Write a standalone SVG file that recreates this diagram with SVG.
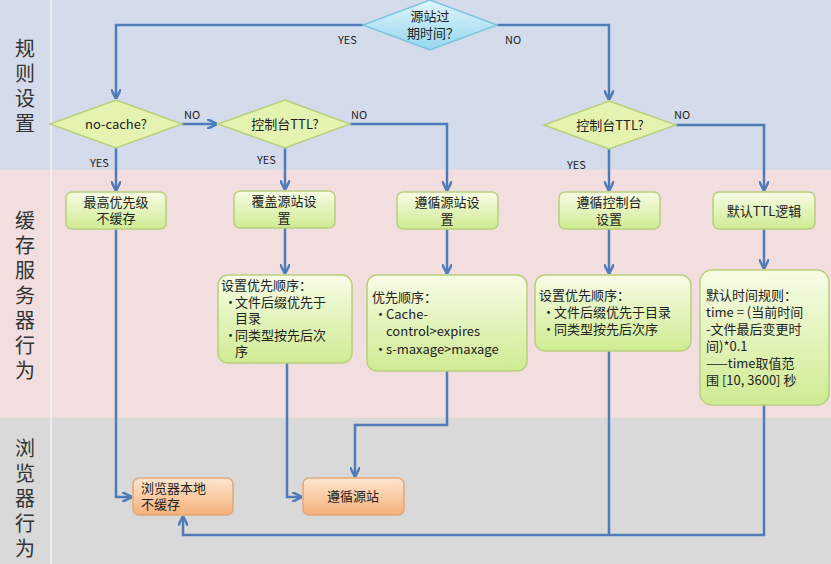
<svg xmlns="http://www.w3.org/2000/svg" width="831" height="564" viewBox="0 0 831 564">
<defs>
<linearGradient id="gg" x1="0" y1="0" x2="0" y2="1"><stop offset="0" stop-color="#f7fce6"/><stop offset="1" stop-color="#cfeb92"/></linearGradient>
<linearGradient id="og" x1="0" y1="0" x2="0" y2="1"><stop offset="0" stop-color="#fde6cf"/><stop offset="1" stop-color="#f6b07a"/></linearGradient>
<linearGradient id="bg" x1="0" y1="0" x2="0" y2="1"><stop offset="0" stop-color="#e2f6fc"/><stop offset="1" stop-color="#93d6ee"/></linearGradient>
<marker id="ar" viewBox="0 0 10 10" refX="9" refY="5" markerWidth="4" markerHeight="4" orient="auto"><path d="M0,0 L10,5 L0,10" fill="none" stroke="#4f7bb8" stroke-width="2.5"/></marker>
</defs>
<style>
.c{fill:none;stroke:#4f7bb8;stroke-width:2.5}
.g{fill:url(#gg);stroke:#b8d07e;stroke-width:1.5}
.o{fill:url(#og);stroke:#e2a878;stroke-width:1.5}
.d{fill:#e4f3b0;stroke:#b8d07e;stroke-width:1.5}
text{font-family:"Noto Sans CJK SC","Noto Sans",sans-serif;font-size:13px;fill:#222}
.m{text-anchor:middle}
.lb{font-size:11px}
.lane{font-size:20px;fill:#333;text-anchor:middle}
</style>
<rect x="0" y="0" width="831" height="170" fill="#d4dcec"/>
<rect x="0" y="170" width="831" height="248" fill="#f2dede"/>
<rect x="0" y="418" width="831" height="146" fill="#d9d9d9"/>
<line x1="51" y1="0" x2="51" y2="564" stroke="#f4f4f4" stroke-width="1.5"/>
<g id="lanes">
<text class="lane" x="25" y="56">规</text><text class="lane" x="25" y="81">则</text><text class="lane" x="25" y="106">设</text><text class="lane" x="25" y="131">置</text>
<text class="lane" x="25" y="228">缓</text><text class="lane" x="25" y="253">存</text><text class="lane" x="25" y="278">服</text><text class="lane" x="25" y="303">务</text><text class="lane" x="25" y="328">器</text><text class="lane" x="25" y="353">行</text><text class="lane" x="25" y="378">为</text>
<text class="lane" x="25" y="456">浏</text><text class="lane" x="25" y="481">览</text><text class="lane" x="25" y="506">器</text><text class="lane" x="25" y="531">行</text><text class="lane" x="25" y="556">为</text>
</g>
<g id="connectors">
<path class="c" d="M363,25 H116 V98" marker-end="url(#ar)"/>
<path class="c" d="M497,25 H609 V99" marker-end="url(#ar)"/>
<path class="c" d="M182,124 H216" marker-end="url(#ar)"/>
<path class="c" d="M350,124 H447 V190" marker-end="url(#ar)"/>
<path class="c" d="M116,148 V190" marker-end="url(#ar)"/>
<path class="c" d="M285,148 V189" marker-end="url(#ar)"/>
<path class="c" d="M609,149 V190" marker-end="url(#ar)"/>
<path class="c" d="M676,125 H764 V190" marker-end="url(#ar)"/>
<path class="c" d="M285,228 V273" marker-end="url(#ar)"/>
<path class="c" d="M447,229 V273" marker-end="url(#ar)"/>
<path class="c" d="M609,229 V273" marker-end="url(#ar)"/>
<path class="c" d="M764,229 V268" marker-end="url(#ar)"/>
<path class="c" d="M116,229 V497 H131" marker-end="url(#ar)"/>
<path class="c" d="M287,363 V497 H301" marker-end="url(#ar)"/>
<path class="c" d="M447,371 V425 H355 V476" marker-end="url(#ar)"/>
<path class="c" d="M764,405 V535 H183 V517" marker-end="url(#ar)"/>
<path class="c" d="M609,351 V535"/>
<text class="lb" x="338" y="44">YES</text>
<text class="lb" x="505" y="44">NO</text>
<text class="lb" x="184" y="119">NO</text>
<text class="lb" x="351" y="119">NO</text>
<text class="lb" x="674" y="119">NO</text>
<text class="lb" x="90" y="167">YES</text>
<text class="lb" x="257" y="164">YES</text>
<text class="lb" x="567" y="169">YES</text>
</g>
<g id="n-top"><path d="M430,0 L497,25 L430,50 L363,25 Z" fill="url(#bg)" stroke="#7cc4e0" stroke-width="1.5"/>
<text class="m" x="430" y="21">源站过</text><text class="m" x="433" y="38">期时间？</text></g>
<g id="n-nocache"><path d="M116,100 L182,124 L116,148 L50,124 Z" class="d"/><text class="m" x="116" y="129">no-cache?</text></g>
<g id="n-ttl1"><path d="M285,100 L350,124 L285,148 L218,124 Z" class="d"/><text class="m" x="285" y="129">控制台TTL?</text></g>
<g id="n-ttl2"><path d="M609,101 L676,125 L609,149 L544,125 Z" class="d"/><text class="m" x="610" y="130">控制台TTL?</text></g>
<g id="n-b1"><rect x="66" y="192" width="100" height="37" rx="6" class="g"/><text class="m" x="116" y="207">最高优先级</text><text class="m" x="116" y="223">不缓存</text></g>
<g id="n-b2"><rect x="234" y="191" width="101" height="37" rx="6" class="g"/><text class="m" x="284" y="206">覆盖源站设</text><text class="m" x="284" y="223">置</text></g>
<g id="n-b3"><rect x="397" y="192" width="101" height="37" rx="6" class="g"/><text class="m" x="447" y="207">遵循源站设</text><text class="m" x="447" y="224">置</text></g>
<g id="n-b4"><rect x="559" y="192" width="101" height="37" rx="6" class="g"/><text class="m" x="609" y="207">遵循控制台</text><text class="m" x="609" y="224">设置</text></g>
<g id="n-b5"><rect x="713" y="192" width="102" height="37" rx="6" class="g"/><text class="m" x="764" y="216">默认TTL逻辑</text></g>
<g id="n-c1"><rect x="218" y="275" width="134" height="88" rx="10" class="g"/>
<text x="221" y="290">设置优先顺序：</text>
<text x="224" y="307">•</text><text x="235" y="307">文件后缀优先于</text><text x="235" y="323">目录</text>
<text x="224" y="340">•</text><text x="235" y="340">同类型按先后次</text><text x="235" y="356">序</text></g>
<g id="n-c2"><rect x="367" y="275" width="160" height="96" rx="10" class="g"/>
<text x="372" y="302">优先顺序：</text>
<text x="374" y="319">•</text><text x="386" y="319">Cache-</text><text x="386" y="336">control&gt;expires</text>
<text x="374" y="354">•</text><text x="386" y="354">s-maxage&gt;maxage</text></g>
<g id="n-c3"><rect x="535" y="275" width="156" height="76" rx="10" class="g"/>
<text x="539" y="300">设置优先顺序：</text>
<text x="542" y="317">•</text><text x="554" y="317">文件后缀优先于目录</text>
<text x="542" y="334">•</text><text x="554" y="334">同类型按先后次序</text></g>
<g id="n-c4"><rect x="700" y="270" width="129" height="135" rx="12" class="g"/>
<text x="706" y="300">默认时间规则：</text>
<text x="706" y="317">time = (当前时间</text>
<text x="706" y="334">-文件最后变更时</text>
<text x="706" y="351">间)*0.1</text>
<text x="706" y="368">——time取值范</text>
<text x="706" y="385">围 [10, 3600] 秒</text></g>
<g id="n-o1"><rect x="133" y="478" width="100" height="37" rx="6" class="o"/><text x="141" y="493">浏览器本地</text><text x="141" y="509">不缓存</text></g>
<g id="n-o2"><rect x="303" y="478" width="101" height="37" rx="6" class="o"/><text class="m" x="353" y="501">遵循源站</text></g>
</svg>
